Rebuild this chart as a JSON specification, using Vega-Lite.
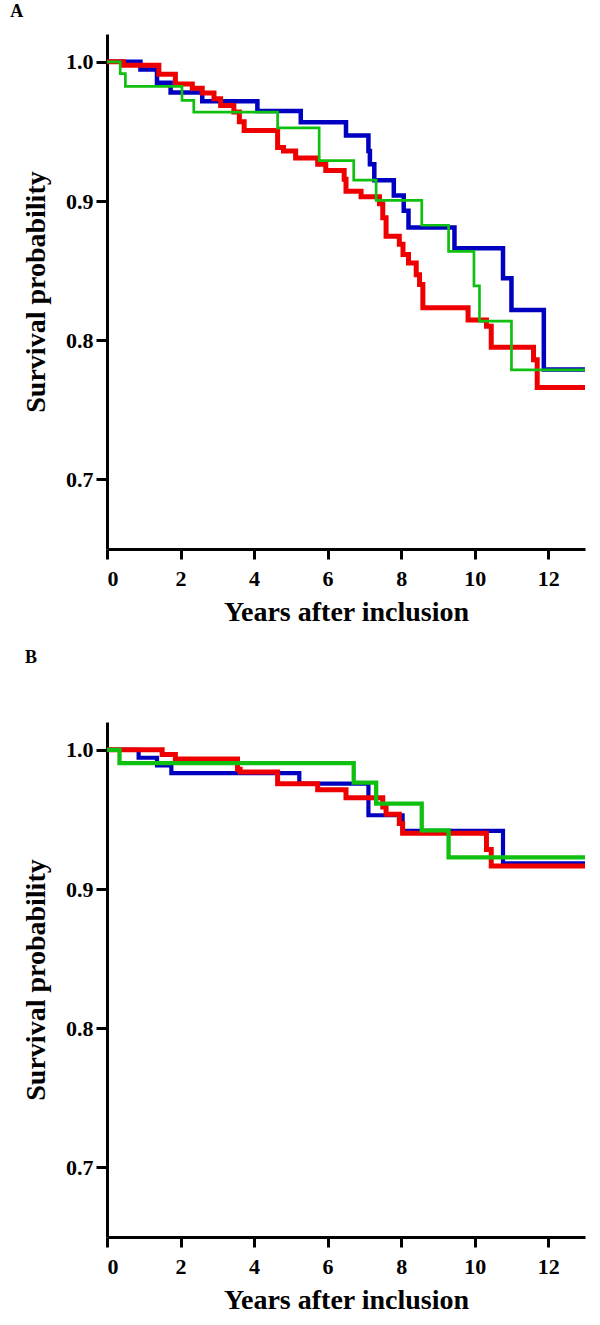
{
  "$schema": "https://vega.github.io/schema/vega-lite/v6.json",
  "background": "white",
  "padding": {"left": 10, "top": 3, "right": 10, "bottom": 5},
  "spacing": 173,
  "bounds": "flush",
  "config": {
    "view": {"stroke": null},
    "font": "Liberation Serif",
    "axis": {
      "grid": false,
      "domainColor": "black",
      "domainWidth": 3,
      "tickColor": "black",
      "tickWidth": 3,
      "labelFont": "Liberation Serif",
      "labelFontSize": 22,
      "labelFontWeight": "bold",
      "labelColor": "black",
      "titleFont": "Liberation Serif",
      "titleFontSize": 28,
      "titleFontWeight": "bold",
      "titleColor": "black"
    },
    "axisX": {"tickSize": 10, "labelPadding": 9, "titlePadding": 9},
    "axisY": {"tickSize": 11, "labelPadding": 3, "titlePadding": 15}
  },
  "datasets": {
    "km": [
      {"panel": "A", "group": "g1", "t": 0, "s": 1.0},
      {"panel": "A", "group": "g1", "t": 0.91, "s": 0.9945},
      {"panel": "A", "group": "g1", "t": 1.36, "s": 0.985},
      {"panel": "A", "group": "g1", "t": 1.73, "s": 0.978},
      {"panel": "A", "group": "g1", "t": 2.59, "s": 0.9716},
      {"panel": "A", "group": "g1", "t": 4.09, "s": 0.9646},
      {"panel": "A", "group": "g1", "t": 5.27, "s": 0.9566},
      {"panel": "A", "group": "g1", "t": 6.5, "s": 0.947},
      {"panel": "A", "group": "g1", "t": 7.11, "s": 0.936},
      {"panel": "A", "group": "g1", "t": 7.15, "s": 0.9265},
      {"panel": "A", "group": "g1", "t": 7.27, "s": 0.915},
      {"panel": "A", "group": "g1", "t": 7.8, "s": 0.904},
      {"panel": "A", "group": "g1", "t": 8.07, "s": 0.893},
      {"panel": "A", "group": "g1", "t": 8.2, "s": 0.881},
      {"panel": "A", "group": "g1", "t": 9.45, "s": 0.866},
      {"panel": "A", "group": "g1", "t": 10.77, "s": 0.8445},
      {"panel": "A", "group": "g1", "t": 11.0, "s": 0.8217},
      {"panel": "A", "group": "g1", "t": 11.88, "s": 0.779},
      {"panel": "A", "group": "g1", "t": 13, "s": 0.779},

      {"panel": "A", "group": "g2", "t": 0, "s": 1.0},
      {"panel": "A", "group": "g2", "t": 0.45, "s": 0.9976},
      {"panel": "A", "group": "g2", "t": 1.41, "s": 0.991},
      {"panel": "A", "group": "g2", "t": 1.86, "s": 0.984},
      {"panel": "A", "group": "g2", "t": 2.32, "s": 0.981},
      {"panel": "A", "group": "g2", "t": 2.59, "s": 0.9776},
      {"panel": "A", "group": "g2", "t": 2.91, "s": 0.9735},
      {"panel": "A", "group": "g2", "t": 3.09, "s": 0.9687},
      {"panel": "A", "group": "g2", "t": 3.45, "s": 0.964},
      {"panel": "A", "group": "g2", "t": 3.6, "s": 0.957},
      {"panel": "A", "group": "g2", "t": 3.73, "s": 0.9506},
      {"panel": "A", "group": "g2", "t": 4.64, "s": 0.9385},
      {"panel": "A", "group": "g2", "t": 4.8, "s": 0.936},
      {"panel": "A", "group": "g2", "t": 5.13, "s": 0.931},
      {"panel": "A", "group": "g2", "t": 5.73, "s": 0.9265},
      {"panel": "A", "group": "g2", "t": 5.95, "s": 0.922},
      {"panel": "A", "group": "g2", "t": 6.45, "s": 0.9157},
      {"panel": "A", "group": "g2", "t": 6.5, "s": 0.907},
      {"panel": "A", "group": "g2", "t": 6.91, "s": 0.903},
      {"panel": "A", "group": "g2", "t": 7.41, "s": 0.898},
      {"panel": "A", "group": "g2", "t": 7.5, "s": 0.888},
      {"panel": "A", "group": "g2", "t": 7.59, "s": 0.8747},
      {"panel": "A", "group": "g2", "t": 7.95, "s": 0.869},
      {"panel": "A", "group": "g2", "t": 8.05, "s": 0.8615},
      {"panel": "A", "group": "g2", "t": 8.2, "s": 0.8554},
      {"panel": "A", "group": "g2", "t": 8.41, "s": 0.847},
      {"panel": "A", "group": "g2", "t": 8.5, "s": 0.84},
      {"panel": "A", "group": "g2", "t": 8.59, "s": 0.8234},
      {"panel": "A", "group": "g2", "t": 9.82, "s": 0.8145},
      {"panel": "A", "group": "g2", "t": 10.32, "s": 0.81},
      {"panel": "A", "group": "g2", "t": 10.45, "s": 0.795},
      {"panel": "A", "group": "g2", "t": 11.6, "s": 0.786},
      {"panel": "A", "group": "g2", "t": 11.7, "s": 0.766},
      {"panel": "A", "group": "g2", "t": 13, "s": 0.766},

      {"panel": "A", "group": "g3", "t": 0, "s": 1.0},
      {"panel": "A", "group": "g3", "t": 0.36, "s": 0.9916},
      {"panel": "A", "group": "g3", "t": 0.5, "s": 0.9824},
      {"panel": "A", "group": "g3", "t": 2.04, "s": 0.9723},
      {"panel": "A", "group": "g3", "t": 2.36, "s": 0.9638},
      {"panel": "A", "group": "g3", "t": 4.64, "s": 0.9526},
      {"panel": "A", "group": "g3", "t": 5.77, "s": 0.929},
      {"panel": "A", "group": "g3", "t": 6.71, "s": 0.915},
      {"panel": "A", "group": "g3", "t": 7.32, "s": 0.9005},
      {"panel": "A", "group": "g3", "t": 8.56, "s": 0.8826},
      {"panel": "A", "group": "g3", "t": 9.29, "s": 0.8638},
      {"panel": "A", "group": "g3", "t": 9.98, "s": 0.839},
      {"panel": "A", "group": "g3", "t": 10.13, "s": 0.8137},
      {"panel": "A", "group": "g3", "t": 11.0, "s": 0.7787},
      {"panel": "A", "group": "g3", "t": 13, "s": 0.7787},

      {"panel": "B", "group": "g1", "t": 0, "s": 1.0},
      {"panel": "B", "group": "g1", "t": 0.86, "s": 0.9943},
      {"panel": "B", "group": "g1", "t": 1.36, "s": 0.9888},
      {"panel": "B", "group": "g1", "t": 1.75, "s": 0.9833},
      {"panel": "B", "group": "g1", "t": 5.23, "s": 0.9757},
      {"panel": "B", "group": "g1", "t": 7.11, "s": 0.953},
      {"panel": "B", "group": "g1", "t": 8.04, "s": 0.9418},
      {"panel": "B", "group": "g1", "t": 10.77, "s": 0.9184},
      {"panel": "B", "group": "g1", "t": 13, "s": 0.9184},

      {"panel": "B", "group": "g2", "t": 0, "s": 1.0},
      {"panel": "B", "group": "g2", "t": 1.5, "s": 0.9966},
      {"panel": "B", "group": "g2", "t": 1.86, "s": 0.9935},
      {"panel": "B", "group": "g2", "t": 3.55, "s": 0.986},
      {"panel": "B", "group": "g2", "t": 3.62, "s": 0.984},
      {"panel": "B", "group": "g2", "t": 4.64, "s": 0.9757},
      {"panel": "B", "group": "g2", "t": 5.73, "s": 0.9714},
      {"panel": "B", "group": "g2", "t": 6.5, "s": 0.9656},
      {"panel": "B", "group": "g2", "t": 7.5, "s": 0.9589},
      {"panel": "B", "group": "g2", "t": 7.59, "s": 0.9537},
      {"panel": "B", "group": "g2", "t": 7.95, "s": 0.947},
      {"panel": "B", "group": "g2", "t": 8.04, "s": 0.94},
      {"panel": "B", "group": "g2", "t": 10.32, "s": 0.9284},
      {"panel": "B", "group": "g2", "t": 10.45, "s": 0.9165},
      {"panel": "B", "group": "g2", "t": 13, "s": 0.9165},

      {"panel": "B", "group": "g3", "t": 0, "s": 1.0},
      {"panel": "B", "group": "g3", "t": 0.34, "s": 0.9904},
      {"panel": "B", "group": "g3", "t": 6.71, "s": 0.9764},
      {"panel": "B", "group": "g3", "t": 7.32, "s": 0.9613},
      {"panel": "B", "group": "g3", "t": 8.56, "s": 0.9422},
      {"panel": "B", "group": "g3", "t": 9.29, "s": 0.9227},
      {"panel": "B", "group": "g3", "t": 13, "s": 0.9227}
    ]
  },
  "vconcat": [
    {
      "title": {"text": "A", "anchor": "start", "frame": "group", "dx": -96.7, "offset": -1.4, "baseline": "alphabetic", "fontSize": 18, "fontWeight": "bold", "font": "Liberation Serif", "color": "black"},
      "width": 478,
      "height": 515,
      "data": {"name": "km"},
      "transform": [{"filter": "datum.panel === 'A'"}],
      "encoding": {
        "x": {"field": "t", "type": "quantitative", "scale": {"domain": [0, 13], "nice": false}, "axis": {"values": [0, 2, 4, 6, 8, 10, 12], "title": "Years after inclusion"}},
        "y": {"field": "s", "type": "quantitative", "scale": {"domain": [0.65, 1.02], "nice": false, "zero": false}, "axis": {"values": [0.7, 0.8, 0.9, 1.0], "format": ".1f", "title": "Survival probability"}}
      },
      "layer": [
        {"transform": [{"filter": "datum.group === 'g1'"}], "mark": {"type": "line", "interpolate": "step-after", "color": "#0000C0", "strokeWidth": 4.5}},
        {"transform": [{"filter": "datum.group === 'g2'"}], "mark": {"type": "line", "interpolate": "step-after", "color": "#EE0000", "strokeWidth": 5}},
        {"transform": [{"filter": "datum.group === 'g3'"}], "mark": {"type": "line", "interpolate": "step-after", "color": "#10C010", "strokeWidth": 2.7}}
      ]
    },
    {
      "title": {"text": "B", "anchor": "start", "frame": "group", "dx": -82, "offset": 41, "baseline": "alphabetic", "fontSize": 18, "fontWeight": "bold", "font": "Liberation Serif", "color": "black"},
      "width": 478,
      "height": 515,
      "data": {"name": "km"},
      "transform": [{"filter": "datum.panel === 'B'"}],
      "encoding": {
        "x": {"field": "t", "type": "quantitative", "scale": {"domain": [0, 13], "nice": false}, "axis": {"values": [0, 2, 4, 6, 8, 10, 12], "title": "Years after inclusion"}},
        "y": {"field": "s", "type": "quantitative", "scale": {"domain": [0.65, 1.02], "nice": false, "zero": false}, "axis": {"values": [0.7, 0.8, 0.9, 1.0], "format": ".1f", "title": "Survival probability"}}
      },
      "layer": [
        {"transform": [{"filter": "datum.group === 'g1'"}], "mark": {"type": "line", "interpolate": "step-after", "color": "#0000C0", "strokeWidth": 4.2}},
        {"transform": [{"filter": "datum.group === 'g2'"}], "mark": {"type": "line", "interpolate": "step-after", "color": "#EE0000", "strokeWidth": 5}},
        {"transform": [{"filter": "datum.group === 'g3'"}], "mark": {"type": "line", "interpolate": "step-after", "color": "#10C010", "strokeWidth": 4.3}}
      ]
    }
  ]
}
